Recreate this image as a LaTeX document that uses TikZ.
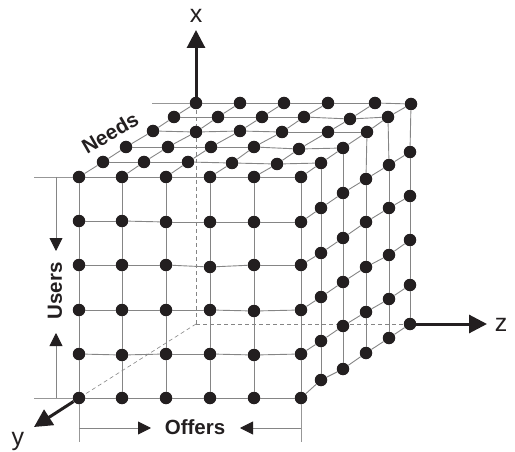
\documentclass[tikz,border=0pt]{standalone}
\usepackage{fontspec}
\setmainfont{Liberation Sans}
\usetikzlibrary{arrows.meta,backgrounds}
\definecolor{ink}{HTML}{231F20}
\definecolor{gridgray}{HTML}{858585}
\tikzset{
  dot/.style={circle,fill=ink,inner sep=0pt,minimum size=12.5pt},
  gridline/.style={draw=gridgray,line width=0.9pt},
  guide/.style={draw=gridgray!85!white,line width=0.9pt},
  hidden/.style={draw=gridgray,line width=0.7pt,dash pattern=on 4pt off 3pt},
  axis/.style={draw=ink,line width=3pt,-{Triangle[length=18pt,width=18pt]}},
  dimarrow/.style={draw=gridgray,line width=0.9pt,-{Triangle[length=13pt,width=13pt,color=ink]}},
  bold label/.style={font=\fontsize{20.5}{20.5}\selectfont\bfseries,text=ink,inner sep=0pt},
  axis label/.style={font=\fontsize{25}{25}\selectfont,text=ink,inner sep=0pt}
}
\begin{document}
\begin{tikzpicture}[x=1pt,y=-1pt]
\useasboundingbox (0,0) rectangle (515,452);
% top face: depth / list of col x,y
\foreach \d/\xa/\xb/\xc/\xd/\xe/\xf/\ya/\yb/\yc/\ye/\yf/\yg in {
  0/196/240/284/328/375/411/103/103/103/103/103/104,
  1/174/218/262/304/350/388/117/117/117/117/119/117,
  2/153/196/240/282/328/367/131/132/131/132/132/132,
  3/126/168/211/254/299/343/147/147/147/147/149/148,
  4/103/144/188/232/277/321/162/162/162/163/164/163,
  5/79/122/166/210/254/301/177/177/177/177/177/177}{
  \node[dot] (n\d-0-0) at (\xa,\ya) {};
  \node[dot] (n\d-1-0) at (\xb,\yb) {};
  \node[dot] (n\d-2-0) at (\xc,\yc) {};
  \node[dot] (n\d-3-0) at (\xd,\ye) {};
  \node[dot] (n\d-4-0) at (\xe,\yf) {};
  \node[dot] (n\d-5-0) at (\xf,\yg) {};
}
% front face: column / x / rows 1..5
\foreach \c/\x/\ra/\rb/\rc/\rd/\re in {
  0/79/221/265/310/354/398,
  1/122/221/265/310/355/398,
  2/166/222/265/310/354/398,
  3/210/222/267/310/354/398,
  4/254/222/265/311/355/398,
  5/301/222/265/310/354/398}{
  \node[dot] (n5-\c-1) at (\x,\ra) {};
  \node[dot] (n5-\c-2) at (\x,\rb) {};
  \node[dot] (n5-\c-3) at (\x,\rc) {};
  \node[dot] (n5-\c-4) at (\x,\rd) {};
  \node[dot] (n5-\c-5) at (\x,\re) {};
}
% right face: depth / x / rows 1..5
\foreach \d/\x/\ra/\rb/\rc/\rd/\re in {
  4/321/208/253/297/341/380,
  3/343/193/238/282/326/369,
  2/366/179/222/267/312/353,
  1/389/165/208/255/299/338,
  0/410/152/196/240/285/324}{
  \node[dot] (n\d-5-1) at (\x,\ra) {};
  \node[dot] (n\d-5-2) at (\x,\rb) {};
  \node[dot] (n\d-5-3) at (\x,\rc) {};
  \node[dot] (n\d-5-4) at (\x,\rd) {};
  \node[dot] (n\d-5-5) at (\x,\re) {};
}
% top face connectors
\foreach \d in {0,...,5}{
  \foreach \c [evaluate=\c as \n using int(\c+1)] in {0,...,4}{
    \draw[gridline] (n\d-\c-0) -- (n\d-\n-0);
  }
}
\foreach \c in {0,...,5}{
  \foreach \d [evaluate=\d as \n using int(\d+1)] in {0,...,4}{
    \draw[gridline] (n\d-\c-0) -- (n\n-\c-0);
  }
}
% front face connectors
\foreach \c in {0,...,5}{
  \foreach \r [evaluate=\r as \n using int(\r+1)] in {0,...,4}{
    \draw[gridline] (n5-\c-\r) -- (n5-\c-\n);
  }
}
\foreach \r in {1,...,5}{
  \foreach \c [evaluate=\c as \n using int(\c+1)] in {0,...,4}{
    \draw[gridline] (n5-\c-\r) -- (n5-\n-\r);
  }
}
% right face connectors
\foreach \d in {0,...,4}{
  \foreach \r [evaluate=\r as \n using int(\r+1)] in {0,...,4}{
    \draw[gridline] (n\d-5-\r) -- (n\d-5-\n);
  }
}
\foreach \r in {1,...,5}{
  \foreach \d [evaluate=\d as \n using int(\d+1)] in {0,...,4}{
    \draw[gridline] (n\d-5-\r) -- (n\n-5-\r);
  }
}
% hidden edges
\coordinate (origin) at (196,324);
\begin{scope}[on background layer]
  \draw[hidden] (n0-0-0.center) -- (origin);
  \draw[hidden] (origin) -- (n0-5-5.center);
  \draw[hidden,line width=0.6pt] (origin) -- (n5-0-5.center);
\end{scope}
% guide lines
\coordinate (gtl) at (34,177);
\coordinate (gbl) at (34,398);
\coordinate (gback) at (152,103);
\coordinate (gdl) at (79,442);
\coordinate (gdr) at (301,442);
\draw[guide] (gtl) -- (n5-0-0);
\draw[guide] (gbl) -- (n5-0-5);
\draw[guide] (gback) -- (n0-0-0);
\draw[guide] (n5-0-5) -- (gdl);
\draw[guide] (n5-5-5) -- (gdr);
% dimension arrows
\coordinate (ua) at (56,177);
\coordinate (ub) at (56,251);
\coordinate (uc) at (56,398);
\coordinate (ud) at (56,333);
\coordinate (oa) at (79,428);
\coordinate (ob) at (151,428);
\coordinate (oc) at (301,428);
\coordinate (od) at (240,428);
\draw[dimarrow] (ua) -- (ub);
\draw[dimarrow] (uc) -- (ud);
\draw[dimarrow] (oa) -- (ob);
\draw[dimarrow] (oc) -- (od);
% axes
\coordinate (xend) at (196,30);
\coordinate (yend) at (34,427);
\coordinate (zend) at (487,324);
\draw[axis] (n0-0-0) -- (xend);
\draw[axis] (n5-0-5) -- (yend);
\draw[axis] (n0-5-5) -- (zend);
% labels
\node[axis label] (xlab) at (196,16) {x};
\node[axis label] (ylab) at (18,441) {y};
\node[axis label] (zlab) at (501,325) {z};
\node[bold label,rotate=30] (needs) at (110,133) {Needs};
\node[bold label,rotate=90] (users) at (55,291) {Users};
\node[bold label] (offers) at (195,427) {Offers};
\end{tikzpicture}
\end{document}
